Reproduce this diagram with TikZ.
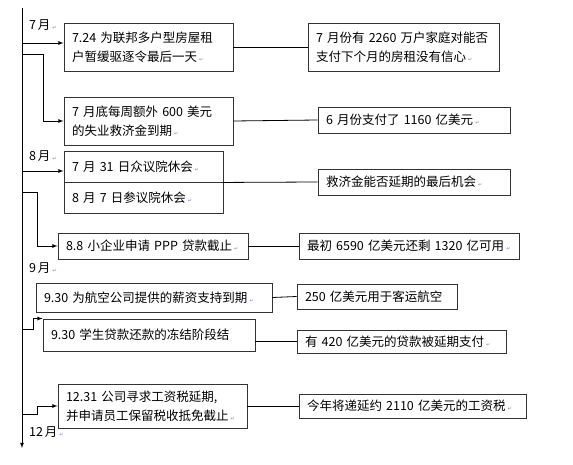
\documentclass[tikz,border=0pt]{standalone}
\usepackage{fontspec}
\setmainfont{Noto Sans CJK SC}[WordSpace=0.6]
\newfontfamily\symfont{DejaVu Sans}
\usetikzlibrary{arrows}
\definecolor{markblue}{RGB}{90,140,215}
\newcommand{\pmark}{\,{\symfont\fontsize{5}{5}\selectfont\color{markblue}↵}}

\begin{document}
\begin{tikzpicture}[x=1pt,y=-1pt,
  box/.style={draw=black!80,line width=0.9pt,inner xsep=8pt,inner ysep=2pt,align=left,font=\fontsize{12.5}{19}\selectfont},
  month/.style={anchor=west,inner sep=0pt,font=\fontsize{12.5}{19}\selectfont},
  arr/.style={-latex,line width=0.8pt},
  link/.style={line width=0.8pt}]
\useasboundingbox (0,0) rectangle (573,465);
% time line
\coordinate (top) at (22,8);
\coordinate (bot) at (22,448);
\draw[arr] (top) -- (bot);
\node[month] (m7) at (29,25) {7~月\pmark};
\node[month] (m8) at (29,156) {8~月\pmark};
\node[month] (m9) at (29,268) {9~月\pmark};
\node[month] (m12) at (29,432) {12~月\pmark};
% left column
\node[box,text width=153pt,minimum height=48pt] (a1) at (148.5,47) {7.24~为联邦多户型房屋租\\户暂缓驱逐令最后一天\pmark};
\node[box,text width=153pt,minimum height=48pt] (a2) at (148.5,121) {7~月底每周额外~600~美元\\的失业救济金到期\pmark};
\node[box,text width=143pt,minimum height=31pt] (a3) at (143.5,166.5) {7~月~31~日众议院休会\pmark};
\node[box,text width=143pt,minimum height=31pt] (a3b) at (143.5,197.5) {8~月~7~日参议院休会\pmark};
\node[box,text width=174pt,minimum height=26pt] (a4) at (153,246) {8.8~小企业申请~PPP~贷款截止\pmark};
\node[box,text width=220pt,minimum height=29pt] (a5) at (154,297.5) {9.30~为航空公司提供的薪资支持到期\pmark};
\node[box,text width=196pt,minimum height=32pt] (a6) at (149,335) {9.30~学生贷款还款的冻结阶段结};
\node[box,text width=173pt,minimum height=44pt] (a7) at (152.5,406) {12.31~公司寻求工资税延期,\\并申请员工保留税收抵免截止\pmark};
% right column
\node[box,text width=175pt,minimum height=48pt] (b1) at (403.5,47) {7~月份有~2260~万户家庭对能否\\支付下个月的房租没有信心\pmark};
\node[box,text width=176pt,minimum height=26pt] (b2) at (414,120) {6~月份支付了~1160~亿美元\pmark};
\node[box,text width=176pt,minimum height=26pt] (b3) at (414,182) {救济金能否延期的最后机会\pmark};
\node[box,text width=204pt,minimum height=26pt] (b4) at (409,246) {最初~6590~亿美元还剩~1320~亿可用\pmark};
\node[box,text width=144pt,minimum height=25pt] (b5) at (377,296.5) {250~亿美元用于客运航空};
\node[box,text width=193pt,minimum height=23pt] (b6) at (401.5,341.5) {有~420~亿美元的贷款被延期支付\pmark};
\node[box,text width=211pt,minimum height=24pt] (b7) at (412.5,406) {今年将递延约~2110~亿美元的工资税\pmark};
% branches
\coordinate (t1) at (22,43);
\coordinate (t2) at (22,54);
\coordinate (t3) at (22,171);
\coordinate (t4) at (22,192);
\coordinate (t5) at (22,329);
\coordinate (t7) at (22,414);
\draw[arr] (t1) -- (t1 -| a1.west);
\draw[arr] (t2) -- ++(21,0) |- (a2.west);
\draw[arr] (t3) -- (t3 -| a3.west);
\draw[arr] (t4) -- ++(15,0) |- (a4.west);
\draw[arr] (t5) -- ++(11,0) |- (a6.north west);
\draw[arr] (t7) -- ++(15,0) |- (a7.west);
% links
\draw[link] (a1.east) -- (b1.west);
\draw[link] (a2.east) -- (b2.west);
\draw[link] (a3.south east) -- (b3.west);
\draw[link] (a4.east) -- (b4.west);
\draw[link] (a5.east) -- (b5.west);
\draw[link] (a6.east |- b6.west) -- (b6.west);
\draw[link] (a7.east) -- (b7.west);
\end{tikzpicture}
\end{document}
